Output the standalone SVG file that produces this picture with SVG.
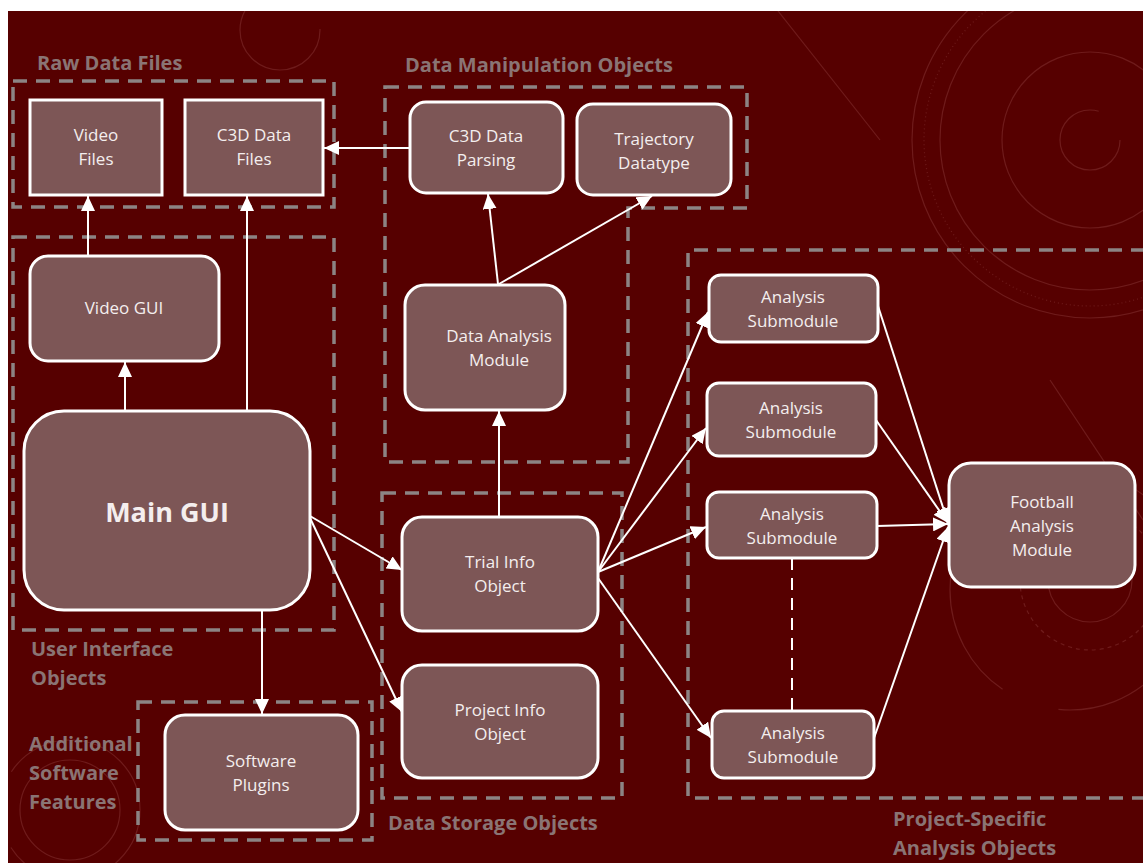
<svg xmlns="http://www.w3.org/2000/svg" width="1143" height="863" viewBox="0 0 1143 863">
<defs>
<style>
.grp{fill:none;stroke:#8c8484;stroke-width:3.5;stroke-dasharray:14 9}
.lbl{font-family:"Open Sans","Liberation Sans",sans-serif;font-weight:bold;font-size:20px;fill:#8a7474}
.node{fill:#7d5656;stroke:#ffffff;stroke-width:3}
.txt{font-family:"Open Sans","Liberation Sans",sans-serif;font-size:17px;fill:#f4eeee;text-anchor:middle}
.con{fill:none;stroke:#ffffff;stroke-width:2}
.deco{fill:none;stroke:#a85a5a;stroke-width:1.2;opacity:0.3}
</style>
<clipPath id="bgclip"><rect x="8" y="11" width="1135" height="852"/></clipPath>
<marker id="arr" markerUnits="userSpaceOnUse" markerWidth="16" markerHeight="14" refX="15" refY="7" orient="auto">
<path d="M0,0 L15,7 L0,14 Z" fill="#ffffff"/>
</marker>
</defs>
<rect x="0" y="0" width="1143" height="863" fill="#ffffff"/>
<rect x="8" y="11" width="1135" height="852" fill="#560000"/>
<g id="decoration" clip-path="url(#bgclip)">
<circle class="deco" cx="1090" cy="140" r="30" stroke-dasharray="150 40"/>
<circle class="deco" cx="1090" cy="140" r="88"/>
<circle class="deco" cx="1090" cy="140" r="150"/>
<circle class="deco" cx="1090" cy="140" r="178"/>
<circle class="deco" cx="1090" cy="140" r="166" stroke-dasharray="1 3" stroke-width="6" opacity="0.18"/>
<circle class="deco" cx="280" cy="30" r="40" stroke-dasharray="170 80"/>
<line class="deco" x1="778" y1="11" x2="880" y2="140"/>
<line class="deco" x1="1050" y1="380" x2="1143" y2="520"/>
<circle class="deco" cx="1090" cy="580" r="42"/>
<circle class="deco" cx="1090" cy="580" r="70" stroke-dasharray="4 4"/>
<circle class="deco" cx="1070" cy="590" r="120" stroke-dasharray="200 60"/>
<circle class="deco" cx="70" cy="810" r="70" stroke-dasharray="180 80"/>
<circle class="deco" cx="70" cy="810" r="50"/>
</g>
<g id="groups">
<rect class="grp" x="13" y="81" width="321" height="126"/>
<text class="lbl" x="37" y="70">Raw Data Files</text>
<path class="grp" d="M385,87 L747,87 L747,208 L628,208 L628,462 L385,462 Z"/>
<text class="lbl" x="405" y="72">Data Manipulation Objects</text>
<rect class="grp" x="13" y="237" width="321" height="393"/>
<text class="lbl" x="31" y="656">User Interface</text>
<text class="lbl" x="31" y="685">Objects</text>
<rect class="grp" x="138" y="702" width="234" height="138"/>
<text class="lbl" x="29" y="751">Additional</text>
<text class="lbl" x="29" y="780">Software</text>
<text class="lbl" x="29" y="809">Features</text>
<rect class="grp" x="382" y="493" width="240" height="305"/>
<text class="lbl" x="388" y="830">Data Storage Objects</text>
<path class="grp" d="M1145,250 L688,250 L688,798 L1145,798"/>
<text class="lbl" x="893" y="826">Project-Specific</text>
<text class="lbl" x="893" y="855">Analysis Objects</text>
</g>
<g id="connectors">
<line class="con" x1="410" y1="148" x2="324" y2="148" marker-end="url(#arr)"/>
<line class="con" x1="88" y1="256" x2="88" y2="196" marker-end="url(#arr)"/>
<line class="con" x1="125" y1="411" x2="125" y2="362" marker-end="url(#arr)"/>
<line class="con" x1="247" y1="411" x2="247" y2="196" marker-end="url(#arr)"/>
<line class="con" x1="262" y1="610" x2="262" y2="714" marker-end="url(#arr)"/>
<line class="con" x1="310" y1="516" x2="402" y2="570" marker-end="url(#arr)"/>
<line class="con" x1="310" y1="518" x2="402" y2="712" marker-end="url(#arr)"/>
<line class="con" x1="499" y1="517" x2="499" y2="411" marker-end="url(#arr)"/>
<line class="con" x1="498" y1="284" x2="488" y2="194" marker-end="url(#arr)"/>
<line class="con" x1="499" y1="284" x2="652" y2="196" marker-end="url(#arr)"/>
<line class="con" x1="598" y1="572" x2="708" y2="312" marker-end="url(#arr)"/>
<line class="con" x1="598" y1="572" x2="706" y2="428" marker-end="url(#arr)"/>
<line class="con" x1="598" y1="572" x2="706" y2="527" marker-end="url(#arr)"/>
<line class="con" x1="598" y1="578" x2="711" y2="738" marker-end="url(#arr)"/>
<line class="con" x1="878" y1="306" x2="948" y2="523" marker-end="url(#arr)"/>
<line class="con" x1="876" y1="420" x2="948" y2="523" marker-end="url(#arr)"/>
<line class="con" x1="877" y1="526" x2="948" y2="524" marker-end="url(#arr)"/>
<line class="con" x1="874" y1="738" x2="948" y2="527" marker-end="url(#arr)"/>
<line class="con" x1="792" y1="558" x2="792" y2="711" stroke-width="3" stroke-dasharray="12 8"/>
</g>
<g id="video-files"><rect class="node" x="30" y="100" width="132" height="95"/><text class="txt" x="96" y="141">Video</text><text class="txt" x="96" y="165">Files</text></g>
<g id="c3d-data-files"><rect class="node" x="185" y="100" width="138" height="95"/><text class="txt" x="254" y="141">C3D Data</text><text class="txt" x="254" y="165">Files</text></g>
<g id="c3d-data-parsing"><rect class="node" x="410" y="102" width="153" height="91" rx="16"/><text class="txt" x="486" y="142">C3D Data</text><text class="txt" x="486" y="166">Parsing</text></g>
<g id="trajectory-datatype"><rect class="node" x="577" y="104" width="154" height="91" rx="16"/><text class="txt" x="654" y="145">Trajectory</text><text class="txt" x="654" y="169">Datatype</text></g>
<g id="video-gui"><rect class="node" x="30" y="256" width="189" height="105" rx="18"/><text class="txt" x="124" y="314">Video GUI</text></g>
<g id="main-gui"><rect class="node" x="24" y="411" width="286" height="199" rx="40"/><text class="txt" x="167" y="522" style="font-size:27px;font-weight:bold">Main GUI</text></g>
<g id="data-analysis-module"><rect class="node" x="405" y="285" width="160" height="125" rx="20"/><text class="txt" x="499" y="342">Data Analysis</text><text class="txt" x="499" y="366">Module</text></g>
<g id="software-plugins"><rect class="node" x="165" y="715" width="193" height="115" rx="20"/><text class="txt" x="261" y="767">Software</text><text class="txt" x="261" y="791">Plugins</text></g>
<g id="trial-info-object"><rect class="node" x="402" y="517" width="196" height="114" rx="20"/><text class="txt" x="500" y="568">Trial Info</text><text class="txt" x="500" y="592">Object</text></g>
<g id="project-info-object"><rect class="node" x="402" y="665" width="196" height="113" rx="20"/><text class="txt" x="500" y="716">Project Info</text><text class="txt" x="500" y="740">Object</text></g>
<g id="analysis-submodule-1"><rect class="node" x="709" y="275" width="169" height="67" rx="12"/><text class="txt" x="793" y="303">Analysis</text><text class="txt" x="793" y="327">Submodule</text></g>
<g id="analysis-submodule-2"><rect class="node" x="707" y="383" width="169" height="73" rx="12"/><text class="txt" x="791" y="414">Analysis</text><text class="txt" x="791" y="438">Submodule</text></g>
<g id="analysis-submodule-3"><rect class="node" x="707" y="492" width="170" height="66" rx="12"/><text class="txt" x="792" y="520">Analysis</text><text class="txt" x="792" y="544">Submodule</text></g>
<g id="analysis-submodule-4"><rect class="node" x="712" y="711" width="162" height="67" rx="12"/><text class="txt" x="793" y="739">Analysis</text><text class="txt" x="793" y="763">Submodule</text></g>
<g id="football-analysis-module"><rect class="node" x="949" y="463" width="186" height="124" rx="22"/><text class="txt" x="1042" y="508">Football</text><text class="txt" x="1042" y="532">Analysis</text><text class="txt" x="1042" y="556">Module</text></g>
</svg>
